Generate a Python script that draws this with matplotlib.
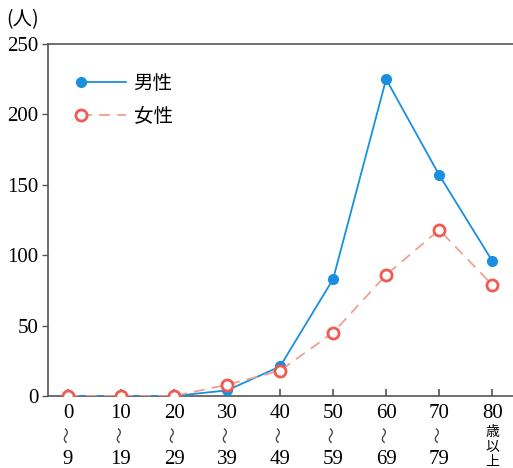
import matplotlib
matplotlib.use("Agg")
import matplotlib.pyplot as plt
from matplotlib.legend_handler import HandlerLine2D

# age groups (10-year bins), count of people
age_top = ["0", "10", "20", "30", "40", "50", "60", "70", "80"]
age_bottom = ["9", "19", "29", "39", "49", "59", "69", "79", None]
male = [0, 0, 0, 4, 21, 83, 225, 157, 96]
female = [0, 0, 0, 8, 18, 45, 86, 118, 79]
y_ticks = [0, 50, 100, 150, 200, 250]

SERIF = ["Liberation Serif", "DejaVu Serif"]
JP = ["Noto Sans CJK JP", "DejaVu Sans"]
AXIS_COL = "#555555"


class MarkerLeft(HandlerLine2D):
    # marker sits at the left end of the legend line, not in the middle
    def create_artists(self, *args, **kwargs):
        artists = super().create_artists(*args, **kwargs)
        artists[0].set_markevery([0])
        return artists


fig = plt.figure(figsize=(5.13, 4.68), dpi=100)
ax = fig.add_axes([48 / 513, 72 / 468, 520 / 513, 352 / 468])

x = list(range(len(age_top)))
ax.plot(x, male, color="#1a8fe0", linewidth=1.3, marker="o", markersize=7,
        markerfacecolor="#1a8fe0", markeredgecolor="#1a8fe0", label="男性", zorder=3)
ax.plot(x, female, color="#f0a090", linewidth=1.3, linestyle=(0, (6, 4)), marker="o",
        markersize=8, markerfacecolor="white", markeredgecolor="#f05a50",
        markeredgewidth=2, label="女性", zorder=4)

ax.set_xlim(-0.377, 9.43)
ax.set_ylim(0, 250)

for side in ["top", "bottom", "left", "right"]:
    ax.spines[side].set_color(AXIS_COL)
    ax.spines[side].set_linewidth(1.2)

ax.set_yticks(y_ticks)
ax.set_yticklabels([str(v) for v in y_ticks], fontfamily=SERIF, fontsize=15)
ax.tick_params(axis="y", direction="out", length=4, width=1, color=AXIS_COL, pad=3)

ax.set_xticks(x)
ax.set_xticklabels([])
ax.tick_params(axis="x", direction="in", length=5, width=1.2, color=AXIS_COL)

# category labels written vertically: start / wave dash / end
for i in x:
    ax.annotate(age_top[i], (i, 0), xycoords=("data", "axes fraction"),
                xytext=(0, -17), textcoords="offset pixels", ha="center", va="center",
                fontfamily=SERIF, fontsize=15)
    if age_bottom[i] is not None:
        ax.annotate("〜", (i, 0), xycoords=("data", "axes fraction"),
                    xytext=(0, -39), textcoords="offset pixels", ha="center", va="center",
                    fontfamily=JP, fontsize=12, rotation=90, color="#444444")
        ax.annotate(age_bottom[i], (i, 0), xycoords=("data", "axes fraction"),
                    xytext=(0, -63), textcoords="offset pixels", ha="center", va="center",
                    fontfamily=SERIF, fontsize=15)
    else:
        for k, ch in enumerate("歳以上"):
            ax.annotate(ch, (i, 0), xycoords=("data", "axes fraction"),
                        xytext=(0, -36 - 15 * k), textcoords="offset pixels",
                        ha="center", va="center", fontfamily=JP, fontsize=10)

fig.text(6 / 513, 1 - 20 / 468, "(人)", fontfamily=JP, fontsize=14,
         ha="left", va="center")

ax.legend(loc="upper left", bbox_to_anchor=(0.03, 0.967), frameon=False,
          prop={"family": JP, "size": 14}, handlelength=2.3,
          handletextpad=0.4, labelspacing=0.6,
          handler_map={plt.Line2D: MarkerLeft()})

fig.savefig("out.png", dpi=100)
